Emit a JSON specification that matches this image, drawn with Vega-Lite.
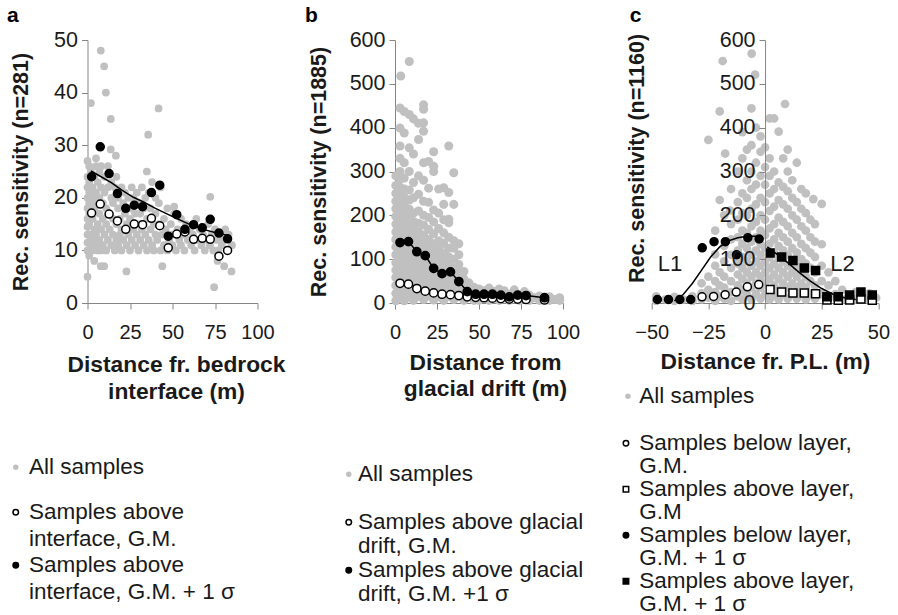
{
"$schema": "https://vega.github.io/schema/vega-lite/v6.json",
"autosize": {"type": "none"},
"padding": {"left": 87.5, "top": 40, "right": 810.5, "bottom": 575},
"background": "white",
"config": {
  "font": "Liberation Sans",
  "view": {"stroke": null},
  "axis": {"grid": false, "domainColor": "#868686", "tickColor": "#868686", "tickSize": 6, "labelColor": "#1a1a1a", "titleFontSize": 21.5, "titleFontWeight": "bold", "titleColor": "#1a1a1a", "labelFlush": false, "labelOverlap": false},
  "axisX": {"labelPadding": 13, "labelFontSize": 20, "titleFontSize": 22.8},
  "axisY": {"labelPadding": 4, "labelFontSize": 21.5},
  "legend": {"labelFontSize": 22.5, "labelColor": "#1a1a1a", "labelLimit": 400, "symbolStrokeWidth": 1.5, "padding": 0, "orient": "none", "symbolSize": 30},
  "title": {"fontSize": 21, "fontWeight": "bold", "anchor": "start", "frame": "group", "color": "#000000", "offset": 3}
},
"datasets": {
  "a_all": [
{"x":0,"y":5,"series":"All samples"},{"x":0,"y":10,"series":"All samples"},{"x":0,"y":11.5,"series":"All samples"},{"x":0,"y":13,"series":"All samples"},{"x":0,"y":14.5,"series":"All samples"},{"x":0,"y":16,"series":"All samples"},{"x":0,"y":18,"series":"All samples"},{"x":0,"y":20,"series":"All samples"},{"x":0,"y":22,"series":"All samples"},{"x":0,"y":24,"series":"All samples"},{"x":0,"y":27,"series":"All samples"},
{"x":1,"y":9,"series":"All samples"},{"x":1,"y":13,"series":"All samples"},{"x":1,"y":15,"series":"All samples"},{"x":1,"y":17,"series":"All samples"},{"x":1,"y":19,"series":"All samples"},{"x":1,"y":21,"series":"All samples"},{"x":1,"y":23,"series":"All samples"},{"x":1,"y":26,"series":"All samples"},
{"x":2,"y":11,"series":"All samples"},{"x":2,"y":19,"series":"All samples"},{"x":2,"y":25,"series":"All samples"},{"x":2,"y":38,"series":"All samples"},
{"x":3,"y":10,"series":"All samples"},{"x":3,"y":12,"series":"All samples"},{"x":3,"y":16,"series":"All samples"},{"x":3,"y":20,"series":"All samples"},{"x":3,"y":22,"series":"All samples"},
{"x":4,"y":8,"series":"All samples"},{"x":4,"y":14,"series":"All samples"},{"x":4,"y":18,"series":"All samples"},{"x":4,"y":24,"series":"All samples"},
{"x":5,"y":11,"series":"All samples"},{"x":5,"y":13,"series":"All samples"},{"x":5,"y":21,"series":"All samples"},{"x":5,"y":26,"series":"All samples"},{"x":5,"y":27.5,"series":"All samples"},
{"x":6,"y":10,"series":"All samples"},{"x":6,"y":15,"series":"All samples"},{"x":6,"y":19,"series":"All samples"},{"x":6,"y":23,"series":"All samples"},
{"x":7,"y":12,"series":"All samples"},{"x":7,"y":17,"series":"All samples"},{"x":7,"y":20,"series":"All samples"},{"x":7,"y":25,"series":"All samples"},{"x":7.8,"y":48,"series":"All samples"},{"x":7.8,"y":7,"series":"All samples"},
{"x":8,"y":10,"series":"All samples"},{"x":8,"y":14,"series":"All samples"},{"x":8,"y":22,"series":"All samples"},{"x":8,"y":26,"series":"All samples"},
{"x":9,"y":11,"series":"All samples"},{"x":9,"y":16,"series":"All samples"},{"x":9,"y":19,"series":"All samples"},{"x":9.8,"y":45,"series":"All samples"},{"x":9.8,"y":7,"series":"All samples"},
{"x":10,"y":13,"series":"All samples"},{"x":10,"y":21,"series":"All samples"},{"x":10,"y":24,"series":"All samples"},{"x":10.8,"y":40,"series":"All samples"},
{"x":11,"y":10,"series":"All samples"},{"x":11,"y":15,"series":"All samples"},{"x":11,"y":18,"series":"All samples"},
{"x":12,"y":12,"series":"All samples"},{"x":12,"y":22,"series":"All samples"},{"x":12,"y":26,"series":"All samples"},
{"x":13,"y":14,"series":"All samples"},{"x":13,"y":17,"series":"All samples"},{"x":13.7,"y":35,"series":"All samples"},{"x":13.7,"y":29.2,"series":"All samples"},
{"x":14,"y":11,"series":"All samples"},{"x":14,"y":20,"series":"All samples"},{"x":14,"y":23,"series":"All samples"},
{"x":15,"y":13,"series":"All samples"},{"x":15,"y":16,"series":"All samples"},{"x":15,"y":19,"series":"All samples"},
{"x":16,"y":10,"series":"All samples"},{"x":16,"y":22,"series":"All samples"},{"x":16.7,"y":28,"series":"All samples"},
{"x":17,"y":12,"series":"All samples"},{"x":17,"y":15,"series":"All samples"},{"x":17,"y":24,"series":"All samples"},
{"x":18,"y":18,"series":"All samples"},{"x":18,"y":20,"series":"All samples"},{"x":18,"y":11,"series":"All samples"},
{"x":19,"y":13,"series":"All samples"},{"x":19,"y":16,"series":"All samples"},
{"x":20,"y":10,"series":"All samples"},{"x":20,"y":22,"series":"All samples"},{"x":20,"y":14,"series":"All samples"},
{"x":21,"y":12,"series":"All samples"},{"x":21,"y":19,"series":"All samples"},
{"x":22,"y":17,"series":"All samples"},{"x":22,"y":21,"series":"All samples"},{"x":22.9,"y":6,"series":"All samples"},
{"x":23,"y":11,"series":"All samples"},{"x":23,"y":15,"series":"All samples"},
{"x":24,"y":13,"series":"All samples"},{"x":24,"y":20,"series":"All samples"},
{"x":25,"y":10,"series":"All samples"},{"x":25,"y":18,"series":"All samples"},{"x":25,"y":16,"series":"All samples"},
{"x":26,"y":12,"series":"All samples"},{"x":26,"y":22,"series":"All samples"},
{"x":27,"y":14,"series":"All samples"},{"x":27,"y":20,"series":"All samples"},
{"x":28,"y":11,"series":"All samples"},{"x":28,"y":17,"series":"All samples"},
{"x":29,"y":13,"series":"All samples"},{"x":29,"y":21,"series":"All samples"},
{"x":30,"y":10,"series":"All samples"},{"x":30,"y":15,"series":"All samples"},{"x":30,"y":19,"series":"All samples"},
{"x":31,"y":12,"series":"All samples"},{"x":31,"y":17,"series":"All samples"},
{"x":32,"y":14,"series":"All samples"},{"x":32,"y":22,"series":"All samples"},
{"x":33,"y":11,"series":"All samples"},{"x":33,"y":18,"series":"All samples"},
{"x":34,"y":13,"series":"All samples"},{"x":34,"y":20,"series":"All samples"},{"x":34.9,"y":25,"series":"All samples"},
{"x":35,"y":10,"series":"All samples"},{"x":35,"y":16,"series":"All samples"},{"x":35.7,"y":32,"series":"All samples"},
{"x":36,"y":12,"series":"All samples"},{"x":36,"y":21,"series":"All samples"},
{"x":37,"y":14,"series":"All samples"},{"x":37,"y":18,"series":"All samples"},
{"x":38,"y":11,"series":"All samples"},{"x":38,"y":23,"series":"All samples"},
{"x":39,"y":15,"series":"All samples"},{"x":39,"y":10,"series":"All samples"},
{"x":40,"y":13,"series":"All samples"},{"x":40,"y":17,"series":"All samples"},{"x":40,"y":20,"series":"All samples"},
{"x":41,"y":12,"series":"All samples"},{"x":41.8,"y":37,"series":"All samples"},
{"x":42,"y":15,"series":"All samples"},{"x":42,"y":19,"series":"All samples"},
{"x":43,"y":10,"series":"All samples"},{"x":43,"y":22,"series":"All samples"},
{"x":44,"y":13,"series":"All samples"},{"x":44,"y":7,"series":"All samples"},
{"x":45,"y":11,"series":"All samples"},{"x":45,"y":16,"series":"All samples"},
{"x":46,"y":14,"series":"All samples"},{"x":47,"y":10,"series":"All samples"},{"x":47,"y":18,"series":"All samples"},{"x":48,"y":12,"series":"All samples"},{"x":49,"y":15,"series":"All samples"},{"x":50,"y":11,"series":"All samples"},{"x":50,"y":13,"series":"All samples"},{"x":51,"y":17,"series":"All samples"},{"x":51,"y":18.3,"series":"All samples"},{"x":52,"y":10,"series":"All samples"},{"x":53,"y":14,"series":"All samples"},{"x":54,"y":12,"series":"All samples"},{"x":55,"y":16,"series":"All samples"},{"x":55,"y":11,"series":"All samples"},
{"x":56,"y":13,"series":"All samples"},{"x":57,"y":10,"series":"All samples"},{"x":58,"y":15,"series":"All samples"},{"x":59,"y":12,"series":"All samples"},{"x":60,"y":14,"series":"All samples"},{"x":61,"y":11,"series":"All samples"},{"x":62,"y":13,"series":"All samples"},{"x":63,"y":10,"series":"All samples"},{"x":64,"y":16,"series":"All samples"},{"x":65,"y":12,"series":"All samples"},
{"x":66,"y":14,"series":"All samples"},{"x":67,"y":11,"series":"All samples"},{"x":68,"y":13,"series":"All samples"},{"x":69,"y":10,"series":"All samples"},{"x":70,"y":12,"series":"All samples"},{"x":71,"y":15,"series":"All samples"},{"x":72,"y":11,"series":"All samples"},{"x":72.2,"y":20.2,"series":"All samples"},{"x":73,"y":13,"series":"All samples"},{"x":74,"y":10,"series":"All samples"},{"x":74.5,"y":3,"series":"All samples"},{"x":75,"y":14,"series":"All samples"},
{"x":76,"y":12,"series":"All samples"},{"x":76.5,"y":8,"series":"All samples"},{"x":77,"y":10,"series":"All samples"},{"x":78,"y":13,"series":"All samples"},{"x":79,"y":11,"series":"All samples"},{"x":80,"y":12,"series":"All samples"},{"x":80.4,"y":7,"series":"All samples"},{"x":81,"y":14,"series":"All samples"},{"x":82,"y":10,"series":"All samples"},{"x":83,"y":13,"series":"All samples"},{"x":84.7,"y":6,"series":"All samples"},{"x":85,"y":11,"series":"All samples"}
  ],
  "a_pts": [
{"x":2.4,"y":17.1,"series":"Samples above interface, G.M."},{"x":7.5,"y":18.8,"series":"Samples above interface, G.M."},{"x":12.7,"y":16.9,"series":"Samples above interface, G.M."},{"x":17.6,"y":15.6,"series":"Samples above interface, G.M."},{"x":22.5,"y":14.0,"series":"Samples above interface, G.M."},{"x":27.5,"y":15.0,"series":"Samples above interface, G.M."},{"x":32.4,"y":14.9,"series":"Samples above interface, G.M."},{"x":37.6,"y":16.1,"series":"Samples above interface, G.M."},{"x":42.5,"y":14.7,"series":"Samples above interface, G.M."},{"x":47.5,"y":10.5,"series":"Samples above interface, G.M."},{"x":52.5,"y":13.1,"series":"Samples above interface, G.M."},{"x":57.3,"y":13.5,"series":"Samples above interface, G.M."},{"x":62.4,"y":12.1,"series":"Samples above interface, G.M."},{"x":67.5,"y":12.3,"series":"Samples above interface, G.M."},{"x":72.2,"y":12.1,"series":"Samples above interface, G.M."},{"x":77.3,"y":8.9,"series":"Samples above interface, G.M."},{"x":82.4,"y":10.0,"series":"Samples above interface, G.M."},
{"x":2.4,"y":24.0,"series":"Samples above interface, G.M. + 1 σ"},{"x":7.5,"y":29.7,"series":"Samples above interface, G.M. + 1 σ"},{"x":12.7,"y":24.6,"series":"Samples above interface, G.M. + 1 σ"},{"x":17.6,"y":20.8,"series":"Samples above interface, G.M. + 1 σ"},{"x":22.5,"y":18.0,"series":"Samples above interface, G.M. + 1 σ"},{"x":27.5,"y":18.6,"series":"Samples above interface, G.M. + 1 σ"},{"x":32.4,"y":18.3,"series":"Samples above interface, G.M. + 1 σ"},{"x":37.6,"y":21.0,"series":"Samples above interface, G.M. + 1 σ"},{"x":42.5,"y":22.4,"series":"Samples above interface, G.M. + 1 σ"},{"x":47.5,"y":12.7,"series":"Samples above interface, G.M. + 1 σ"},{"x":52.5,"y":16.8,"series":"Samples above interface, G.M. + 1 σ"},{"x":57.3,"y":14.0,"series":"Samples above interface, G.M. + 1 σ"},{"x":62.4,"y":14.9,"series":"Samples above interface, G.M. + 1 σ"},{"x":67.5,"y":14.3,"series":"Samples above interface, G.M. + 1 σ"},{"x":72.2,"y":15.9,"series":"Samples above interface, G.M. + 1 σ"},{"x":77.3,"y":13.3,"series":"Samples above interface, G.M. + 1 σ"},{"x":82.4,"y":12.2,"series":"Samples above interface, G.M. + 1 σ"}
  ],
  "a_fit": [
{"x":2,"y":25.1},{"x":8,"y":24.0},{"x":14,"y":22.9},{"x":20,"y":21.5},{"x":27,"y":20.1},{"x":33,"y":19.2},{"x":40,"y":18.0},{"x":47,"y":16.9},{"x":53,"y":16.0},{"x":61,"y":14.8},{"x":68,"y":14.0},{"x":75,"y":13.4},{"x":82.4,"y":12.9}
  ],
  "b_all": [
{"x":0.5,"y":5,"series":"All samples"},{"x":0.5,"y":22,"series":"All samples"},{"x":0.5,"y":40,"series":"All samples"},{"x":0.5,"y":58,"series":"All samples"},{"x":0.5,"y":75,"series":"All samples"},{"x":0.5,"y":92,"series":"All samples"},{"x":0.5,"y":110,"series":"All samples"},{"x":0.5,"y":128,"series":"All samples"},{"x":0.5,"y":145,"series":"All samples"},{"x":0.5,"y":162,"series":"All samples"},{"x":0.5,"y":180,"series":"All samples"},{"x":0.5,"y":198,"series":"All samples"},{"x":0.5,"y":215,"series":"All samples"},{"x":0.5,"y":232,"series":"All samples"},{"x":0.5,"y":250,"series":"All samples"},{"x":0.5,"y":268,"series":"All samples"},{"x":0.5,"y":290,"series":"All samples"},
{"x":3,"y":12,"series":"All samples"},{"x":3,"y":30,"series":"All samples"},{"x":3,"y":48,"series":"All samples"},{"x":3,"y":66,"series":"All samples"},{"x":3,"y":84,"series":"All samples"},{"x":3,"y":102,"series":"All samples"},{"x":3,"y":120,"series":"All samples"},{"x":3,"y":138,"series":"All samples"},{"x":3,"y":156,"series":"All samples"},{"x":3,"y":174,"series":"All samples"},{"x":3,"y":192,"series":"All samples"},{"x":3,"y":210,"series":"All samples"},{"x":3,"y":228,"series":"All samples"},{"x":3,"y":246,"series":"All samples"},{"x":3,"y":264,"series":"All samples"},{"x":3,"y":282,"series":"All samples"},{"x":3,"y":300,"series":"All samples"},{"x":3,"y":330,"series":"All samples"},{"x":3,"y":358,"series":"All samples"},{"x":3,"y":399,"series":"All samples"},{"x":3,"y":445,"series":"All samples"},{"x":3.4,"y":518,"series":"All samples"},
{"x":5.5,"y":5,"series":"All samples"},{"x":5.5,"y":25,"series":"All samples"},{"x":5.5,"y":44,"series":"All samples"},{"x":5.5,"y":62,"series":"All samples"},{"x":5.5,"y":80,"series":"All samples"},{"x":5.5,"y":98,"series":"All samples"},{"x":5.5,"y":116,"series":"All samples"},{"x":5.5,"y":134,"series":"All samples"},{"x":5.5,"y":152,"series":"All samples"},{"x":5.5,"y":170,"series":"All samples"},{"x":5.5,"y":188,"series":"All samples"},{"x":5.5,"y":206,"series":"All samples"},{"x":5.5,"y":224,"series":"All samples"},{"x":5.5,"y":242,"series":"All samples"},{"x":5.5,"y":260,"series":"All samples"},{"x":5.5,"y":285,"series":"All samples"},{"x":5.5,"y":320,"series":"All samples"},{"x":5.5,"y":388,"series":"All samples"},{"x":5.5,"y":437,"series":"All samples"},
{"x":8.5,"y":14,"series":"All samples"},{"x":8.5,"y":33,"series":"All samples"},{"x":8.5,"y":52,"series":"All samples"},{"x":8.5,"y":70,"series":"All samples"},{"x":8.5,"y":88,"series":"All samples"},{"x":8.5,"y":106,"series":"All samples"},{"x":8.5,"y":124,"series":"All samples"},{"x":8.5,"y":142,"series":"All samples"},{"x":8.5,"y":160,"series":"All samples"},{"x":8.5,"y":178,"series":"All samples"},{"x":8.5,"y":196,"series":"All samples"},{"x":8.5,"y":214,"series":"All samples"},{"x":8.5,"y":235,"series":"All samples"},{"x":8.5,"y":258,"series":"All samples"},{"x":8.5,"y":300,"series":"All samples"},{"x":8.5,"y":354,"series":"All samples"},{"x":8.5,"y":430,"series":"All samples"},{"x":8.5,"y":551,"series":"All samples"},
{"x":11,"y":6,"series":"All samples"},{"x":11,"y":24,"series":"All samples"},{"x":11,"y":42,"series":"All samples"},{"x":11,"y":60,"series":"All samples"},{"x":11,"y":78,"series":"All samples"},{"x":11,"y":96,"series":"All samples"},{"x":11,"y":114,"series":"All samples"},{"x":11,"y":132,"series":"All samples"},{"x":11,"y":150,"series":"All samples"},{"x":11,"y":168,"series":"All samples"},{"x":11,"y":186,"series":"All samples"},{"x":11,"y":205,"series":"All samples"},{"x":11,"y":240,"series":"All samples"},{"x":11,"y":275,"series":"All samples"},{"x":11,"y":340,"series":"All samples"},{"x":11,"y":420,"series":"All samples"},
{"x":14,"y":15,"series":"All samples"},{"x":14,"y":34,"series":"All samples"},{"x":14,"y":53,"series":"All samples"},{"x":14,"y":72,"series":"All samples"},{"x":14,"y":90,"series":"All samples"},{"x":14,"y":108,"series":"All samples"},{"x":14,"y":126,"series":"All samples"},{"x":14,"y":144,"series":"All samples"},{"x":14,"y":162,"series":"All samples"},{"x":14,"y":182,"series":"All samples"},{"x":14,"y":210,"series":"All samples"},{"x":14,"y":248,"series":"All samples"},{"x":14,"y":290,"series":"All samples"},{"x":14,"y":373,"series":"All samples"},{"x":14,"y":410,"series":"All samples"},
{"x":17,"y":8,"series":"All samples"},{"x":17,"y":26,"series":"All samples"},{"x":17,"y":44,"series":"All samples"},{"x":17,"y":62,"series":"All samples"},{"x":17,"y":80,"series":"All samples"},{"x":17,"y":98,"series":"All samples"},{"x":17,"y":116,"series":"All samples"},{"x":17,"y":135,"series":"All samples"},{"x":17,"y":155,"series":"All samples"},{"x":17,"y":178,"series":"All samples"},{"x":17,"y":200,"series":"All samples"},{"x":17,"y":232,"series":"All samples"},{"x":17,"y":280,"series":"All samples"},{"x":17,"y":320,"series":"All samples"},{"x":17,"y":392,"series":"All samples"},{"x":17,"y":411,"series":"All samples"},{"x":17,"y":442,"series":"All samples"},{"x":17,"y":452,"series":"All samples"},
{"x":20,"y":16,"series":"All samples"},{"x":20,"y":34,"series":"All samples"},{"x":20,"y":52,"series":"All samples"},{"x":20,"y":70,"series":"All samples"},{"x":20,"y":88,"series":"All samples"},{"x":20,"y":106,"series":"All samples"},{"x":20,"y":125,"series":"All samples"},{"x":20,"y":145,"series":"All samples"},{"x":20,"y":168,"series":"All samples"},{"x":20,"y":195,"series":"All samples"},{"x":20,"y":230,"series":"All samples"},{"x":20,"y":262,"series":"All samples"},{"x":20,"y":323,"series":"All samples"},
{"x":23,"y":7,"series":"All samples"},{"x":23,"y":25,"series":"All samples"},{"x":23,"y":43,"series":"All samples"},{"x":23,"y":61,"series":"All samples"},{"x":23,"y":79,"series":"All samples"},{"x":23,"y":97,"series":"All samples"},{"x":23,"y":115,"series":"All samples"},{"x":23,"y":135,"series":"All samples"},{"x":23,"y":158,"series":"All samples"},{"x":23,"y":185,"series":"All samples"},{"x":23,"y":212,"series":"All samples"},{"x":23,"y":300,"series":"All samples"},{"x":23,"y":312,"series":"All samples"},{"x":23,"y":345,"series":"All samples"},
{"x":26,"y":14,"series":"All samples"},{"x":26,"y":32,"series":"All samples"},{"x":26,"y":50,"series":"All samples"},{"x":26,"y":68,"series":"All samples"},{"x":26,"y":86,"series":"All samples"},{"x":26,"y":104,"series":"All samples"},{"x":26,"y":122,"series":"All samples"},{"x":26,"y":142,"series":"All samples"},{"x":26,"y":170,"series":"All samples"},{"x":26,"y":205,"series":"All samples"},{"x":26,"y":260,"series":"All samples"},
{"x":29,"y":6,"series":"All samples"},{"x":29,"y":24,"series":"All samples"},{"x":29,"y":42,"series":"All samples"},{"x":29,"y":60,"series":"All samples"},{"x":29,"y":78,"series":"All samples"},{"x":29,"y":96,"series":"All samples"},{"x":29,"y":114,"series":"All samples"},{"x":29,"y":136,"series":"All samples"},{"x":29,"y":160,"series":"All samples"},{"x":29,"y":190,"series":"All samples"},{"x":29,"y":225,"series":"All samples"},{"x":29,"y":263,"series":"All samples"},
{"x":32,"y":15,"series":"All samples"},{"x":32,"y":33,"series":"All samples"},{"x":32,"y":51,"series":"All samples"},{"x":32,"y":69,"series":"All samples"},{"x":32,"y":87,"series":"All samples"},{"x":32,"y":105,"series":"All samples"},{"x":32,"y":125,"series":"All samples"},{"x":32,"y":150,"series":"All samples"},{"x":32,"y":183,"series":"All samples"},{"x":32,"y":191,"series":"All samples"},{"x":32,"y":252,"series":"All samples"},{"x":32,"y":358,"series":"All samples"},
{"x":35,"y":8,"series":"All samples"},{"x":35,"y":26,"series":"All samples"},{"x":35,"y":44,"series":"All samples"},{"x":35,"y":62,"series":"All samples"},{"x":35,"y":80,"series":"All samples"},{"x":35,"y":100,"series":"All samples"},{"x":35,"y":125,"series":"All samples"},{"x":35,"y":142,"series":"All samples"},{"x":35,"y":225,"series":"All samples"},{"x":35,"y":297,"series":"All samples"},
{"x":38,"y":16,"series":"All samples"},{"x":38,"y":34,"series":"All samples"},{"x":38,"y":52,"series":"All samples"},{"x":38,"y":70,"series":"All samples"},{"x":38,"y":88,"series":"All samples"},{"x":38,"y":110,"series":"All samples"},{"x":38,"y":135,"series":"All samples"},
{"x":41,"y":6,"series":"All samples"},{"x":41,"y":22,"series":"All samples"},{"x":41,"y":38,"series":"All samples"},{"x":41,"y":55,"series":"All samples"},{"x":41,"y":72,"series":"All samples"},
{"x":44,"y":14,"series":"All samples"},{"x":44,"y":30,"series":"All samples"},{"x":44,"y":46,"series":"All samples"},
{"x":47,"y":6,"series":"All samples"},{"x":47,"y":22,"series":"All samples"},{"x":47,"y":36,"series":"All samples"},
{"x":50,"y":6,"series":"All samples"},{"x":50,"y":20,"series":"All samples"},{"x":50,"y":32,"series":"All samples"},{"x":53,"y":12,"series":"All samples"},{"x":53,"y":28,"series":"All samples"},{"x":56,"y":6,"series":"All samples"},{"x":56,"y":20,"series":"All samples"},{"x":56,"y":34,"series":"All samples"},{"x":59,"y":12,"series":"All samples"},{"x":59,"y":26,"series":"All samples"},{"x":62,"y":6,"series":"All samples"},{"x":62,"y":20,"series":"All samples"},{"x":62,"y":32,"series":"All samples"},{"x":65,"y":12,"series":"All samples"},{"x":65,"y":28,"series":"All samples"},{"x":68,"y":6,"series":"All samples"},{"x":68,"y":20,"series":"All samples"},{"x":71,"y":14,"series":"All samples"},{"x":71,"y":30,"series":"All samples"},{"x":74,"y":6,"series":"All samples"},{"x":74,"y":18,"series":"All samples"},{"x":77,"y":12,"series":"All samples"},{"x":77,"y":26,"series":"All samples"},{"x":80,"y":6,"series":"All samples"},{"x":80,"y":18,"series":"All samples"},{"x":83,"y":12,"series":"All samples"},{"x":86,"y":6,"series":"All samples"},{"x":86,"y":16,"series":"All samples"},{"x":89,"y":10,"series":"All samples"},{"x":92,"y":6,"series":"All samples"},{"x":92,"y":14,"series":"All samples"},{"x":95,"y":8,"series":"All samples"},{"x":98,"y":6,"series":"All samples"},{"x":98,"y":12,"series":"All samples"}
  ],
  "b_pts": [
{"x":3,"y":45,"series":"Samples above glacial drift, G.M."},{"x":8,"y":43,"series":"Samples above glacial drift, G.M."},{"x":13,"y":33,"series":"Samples above glacial drift, G.M."},{"x":18,"y":27,"series":"Samples above glacial drift, G.M."},{"x":23,"y":23,"series":"Samples above glacial drift, G.M."},{"x":28,"y":20,"series":"Samples above glacial drift, G.M."},{"x":33,"y":19,"series":"Samples above glacial drift, G.M."},{"x":38,"y":17,"series":"Samples above glacial drift, G.M."},{"x":43,"y":14,"series":"Samples above glacial drift, G.M."},{"x":48,"y":13,"series":"Samples above glacial drift, G.M."},{"x":53,"y":12,"series":"Samples above glacial drift, G.M."},{"x":58,"y":11,"series":"Samples above glacial drift, G.M."},{"x":63,"y":10,"series":"Samples above glacial drift, G.M."},{"x":68,"y":9,"series":"Samples above glacial drift, G.M."},{"x":73,"y":9,"series":"Samples above glacial drift, G.M."},{"x":78,"y":8,"series":"Samples above glacial drift, G.M."},{"x":89,"y":7,"series":"Samples above glacial drift, G.M."},
{"x":3,"y":138,"series":"Samples above glacial drift, G.M. +1 σ"},{"x":8,"y":140,"series":"Samples above glacial drift, G.M. +1 σ"},{"x":13,"y":117,"series":"Samples above glacial drift, G.M. +1 σ"},{"x":18,"y":108,"series":"Samples above glacial drift, G.M. +1 σ"},{"x":23,"y":79,"series":"Samples above glacial drift, G.M. +1 σ"},{"x":28,"y":67,"series":"Samples above glacial drift, G.M. +1 σ"},{"x":33,"y":71,"series":"Samples above glacial drift, G.M. +1 σ"},{"x":38,"y":49,"series":"Samples above glacial drift, G.M. +1 σ"},{"x":43,"y":26,"series":"Samples above glacial drift, G.M. +1 σ"},{"x":48,"y":20,"series":"Samples above glacial drift, G.M. +1 σ"},{"x":53,"y":20,"series":"Samples above glacial drift, G.M. +1 σ"},{"x":58,"y":20,"series":"Samples above glacial drift, G.M. +1 σ"},{"x":63,"y":18,"series":"Samples above glacial drift, G.M. +1 σ"},{"x":68,"y":14,"series":"Samples above glacial drift, G.M. +1 σ"},{"x":73,"y":18,"series":"Samples above glacial drift, G.M. +1 σ"},{"x":78,"y":17,"series":"Samples above glacial drift, G.M. +1 σ"},{"x":89,"y":12,"series":"Samples above glacial drift, G.M. +1 σ"}
  ],
  "c_all": [
{"x":-48,"y":5,"series":"All samples"},{"x":-48,"y":15,"series":"All samples"},{"x":-44,"y":8,"series":"All samples"},{"x":-40,"y":5,"series":"All samples"},{"x":-40,"y":14,"series":"All samples"},{"x":-36,"y":8,"series":"All samples"},{"x":-32,"y":5,"series":"All samples"},{"x":-32,"y":15,"series":"All samples"},{"x":-28,"y":8,"series":"All samples"},{"x":-28,"y":22,"series":"All samples"},{"x":-28,"y":45,"series":"All samples"},
{"x":-25,"y":12,"series":"All samples"},{"x":-25,"y":30,"series":"All samples"},{"x":-25,"y":60,"series":"All samples"},{"x":-25,"y":372,"series":"All samples"},
{"x":-22,"y":5,"series":"All samples"},{"x":-22,"y":25,"series":"All samples"},{"x":-22,"y":50,"series":"All samples"},{"x":-22,"y":85,"series":"All samples"},{"x":-22,"y":111,"series":"All samples"},{"x":-22,"y":165,"series":"All samples"},
{"x":-20,"y":15,"series":"All samples"},{"x":-20,"y":40,"series":"All samples"},{"x":-20,"y":70,"series":"All samples"},{"x":-20,"y":235,"series":"All samples"},{"x":-20,"y":437,"series":"All samples"},{"x":-18.7,"y":552,"series":"All samples"},{"x":-17.6,"y":341,"series":"All samples"},
{"x":-18,"y":10,"series":"All samples"},{"x":-18,"y":35,"series":"All samples"},{"x":-18,"y":60,"series":"All samples"},{"x":-18,"y":95,"series":"All samples"},{"x":-18,"y":130,"series":"All samples"},{"x":-18,"y":200,"series":"All samples"},{"x":-15.4,"y":211,"series":"All samples"},
{"x":-15,"y":5,"series":"All samples"},{"x":-15,"y":25,"series":"All samples"},{"x":-15,"y":50,"series":"All samples"},{"x":-15,"y":80,"series":"All samples"},{"x":-15,"y":110,"series":"All samples"},{"x":-15,"y":145,"series":"All samples"},{"x":-15,"y":180,"series":"All samples"},{"x":-15,"y":260,"series":"All samples"},
{"x":-12,"y":15,"series":"All samples"},{"x":-12,"y":40,"series":"All samples"},{"x":-12,"y":65,"series":"All samples"},{"x":-12,"y":90,"series":"All samples"},{"x":-12,"y":120,"series":"All samples"},{"x":-12,"y":150,"series":"All samples"},{"x":-12,"y":190,"series":"All samples"},{"x":-12,"y":230,"series":"All samples"},{"x":-12,"y":300,"series":"All samples"},
{"x":-10,"y":8,"series":"All samples"},{"x":-10,"y":30,"series":"All samples"},{"x":-10,"y":55,"series":"All samples"},{"x":-10,"y":80,"series":"All samples"},{"x":-10,"y":105,"series":"All samples"},{"x":-10,"y":135,"series":"All samples"},{"x":-10,"y":165,"series":"All samples"},{"x":-10,"y":205,"series":"All samples"},{"x":-10,"y":250,"series":"All samples"},{"x":-10,"y":330,"series":"All samples"},{"x":-10,"y":390,"series":"All samples"},
{"x":-8,"y":20,"series":"All samples"},{"x":-8,"y":45,"series":"All samples"},{"x":-8,"y":70,"series":"All samples"},{"x":-8,"y":95,"series":"All samples"},{"x":-8,"y":125,"series":"All samples"},{"x":-8,"y":160,"series":"All samples"},{"x":-8,"y":200,"series":"All samples"},{"x":-8,"y":240,"series":"All samples"},{"x":-8,"y":280,"series":"All samples"},{"x":-8,"y":350,"series":"All samples"},
{"x":-6,"y":8,"series":"All samples"},{"x":-6,"y":35,"series":"All samples"},{"x":-6,"y":60,"series":"All samples"},{"x":-6,"y":85,"series":"All samples"},{"x":-6,"y":110,"series":"All samples"},{"x":-6,"y":140,"series":"All samples"},{"x":-6,"y":175,"series":"All samples"},{"x":-6,"y":215,"series":"All samples"},{"x":-6,"y":260,"series":"All samples"},{"x":-6,"y":300,"series":"All samples"},{"x":-6,"y":360,"series":"All samples"},{"x":-6,"y":444,"series":"All samples"},{"x":-5.9,"y":569,"series":"All samples"},{"x":-4.4,"y":521,"series":"All samples"},
{"x":-4,"y":20,"series":"All samples"},{"x":-4,"y":45,"series":"All samples"},{"x":-4,"y":70,"series":"All samples"},{"x":-4,"y":95,"series":"All samples"},{"x":-4,"y":120,"series":"All samples"},{"x":-4,"y":150,"series":"All samples"},{"x":-4,"y":185,"series":"All samples"},{"x":-4,"y":225,"series":"All samples"},{"x":-4,"y":270,"series":"All samples"},{"x":-4,"y":320,"series":"All samples"},{"x":-4,"y":400,"series":"All samples"},
{"x":-2,"y":10,"series":"All samples"},{"x":-2,"y":35,"series":"All samples"},{"x":-2,"y":60,"series":"All samples"},{"x":-2,"y":85,"series":"All samples"},{"x":-2,"y":110,"series":"All samples"},{"x":-2,"y":135,"series":"All samples"},{"x":-2,"y":165,"series":"All samples"},{"x":-2,"y":200,"series":"All samples"},{"x":-2,"y":240,"series":"All samples"},{"x":-2,"y":290,"series":"All samples"},{"x":-2,"y":345,"series":"All samples"},{"x":-2,"y":380,"series":"All samples"},
{"x":0,"y":20,"series":"All samples"},{"x":0,"y":45,"series":"All samples"},{"x":0,"y":70,"series":"All samples"},{"x":0,"y":95,"series":"All samples"},{"x":0,"y":125,"series":"All samples"},{"x":0,"y":155,"series":"All samples"},{"x":0,"y":190,"series":"All samples"},{"x":0,"y":230,"series":"All samples"},{"x":0,"y":270,"series":"All samples"},{"x":0,"y":310,"series":"All samples"},{"x":0,"y":355,"series":"All samples"},
{"x":2,"y":8,"series":"All samples"},{"x":2,"y":30,"series":"All samples"},{"x":2,"y":55,"series":"All samples"},{"x":2,"y":80,"series":"All samples"},{"x":2,"y":105,"series":"All samples"},{"x":2,"y":135,"series":"All samples"},{"x":2,"y":170,"series":"All samples"},{"x":2,"y":210,"series":"All samples"},{"x":2,"y":250,"series":"All samples"},{"x":2,"y":290,"series":"All samples"},{"x":2,"y":330,"series":"All samples"},{"x":2,"y":421,"series":"All samples"},
{"x":4,"y":18,"series":"All samples"},{"x":4,"y":40,"series":"All samples"},{"x":4,"y":65,"series":"All samples"},{"x":4,"y":90,"series":"All samples"},{"x":4,"y":115,"series":"All samples"},{"x":4,"y":145,"series":"All samples"},{"x":4,"y":180,"series":"All samples"},{"x":4,"y":220,"series":"All samples"},{"x":4,"y":260,"series":"All samples"},{"x":4,"y":300,"series":"All samples"},{"x":4,"y":421,"series":"All samples"},
{"x":6,"y":8,"series":"All samples"},{"x":6,"y":30,"series":"All samples"},{"x":6,"y":55,"series":"All samples"},{"x":6,"y":80,"series":"All samples"},{"x":6,"y":105,"series":"All samples"},{"x":6,"y":130,"series":"All samples"},{"x":6,"y":160,"series":"All samples"},{"x":6,"y":195,"series":"All samples"},{"x":6,"y":235,"series":"All samples"},{"x":6,"y":275,"series":"All samples"},{"x":6,"y":391,"series":"All samples"},
{"x":8,"y":20,"series":"All samples"},{"x":8,"y":45,"series":"All samples"},{"x":8,"y":70,"series":"All samples"},{"x":8,"y":95,"series":"All samples"},{"x":8,"y":120,"series":"All samples"},{"x":8,"y":150,"series":"All samples"},{"x":8,"y":185,"series":"All samples"},{"x":8,"y":225,"series":"All samples"},{"x":8,"y":265,"series":"All samples"},{"x":8,"y":330,"series":"All samples"},{"x":8.8,"y":454,"series":"All samples"},
{"x":10,"y":10,"series":"All samples"},{"x":10,"y":35,"series":"All samples"},{"x":10,"y":60,"series":"All samples"},{"x":10,"y":85,"series":"All samples"},{"x":10,"y":110,"series":"All samples"},{"x":10,"y":140,"series":"All samples"},{"x":10,"y":175,"series":"All samples"},{"x":10,"y":215,"series":"All samples"},{"x":10,"y":255,"series":"All samples"},{"x":10,"y":300,"series":"All samples"},{"x":10,"y":350,"series":"All samples"},
{"x":12,"y":20,"series":"All samples"},{"x":12,"y":45,"series":"All samples"},{"x":12,"y":70,"series":"All samples"},{"x":12,"y":95,"series":"All samples"},{"x":12,"y":125,"series":"All samples"},{"x":12,"y":160,"series":"All samples"},{"x":12,"y":200,"series":"All samples"},{"x":12,"y":240,"series":"All samples"},{"x":12,"y":280,"series":"All samples"},
{"x":14,"y":10,"series":"All samples"},{"x":14,"y":35,"series":"All samples"},{"x":14,"y":60,"series":"All samples"},{"x":14,"y":85,"series":"All samples"},{"x":14,"y":115,"series":"All samples"},{"x":14,"y":150,"series":"All samples"},{"x":14,"y":190,"series":"All samples"},{"x":14,"y":230,"series":"All samples"},{"x":14,"y":320,"series":"All samples"},
{"x":16,"y":20,"series":"All samples"},{"x":16,"y":45,"series":"All samples"},{"x":16,"y":70,"series":"All samples"},{"x":16,"y":100,"series":"All samples"},{"x":16,"y":135,"series":"All samples"},{"x":16,"y":175,"series":"All samples"},{"x":16,"y":215,"series":"All samples"},{"x":16,"y":260,"series":"All samples"},
{"x":18,"y":8,"series":"All samples"},{"x":18,"y":35,"series":"All samples"},{"x":18,"y":60,"series":"All samples"},{"x":18,"y":90,"series":"All samples"},{"x":18,"y":125,"series":"All samples"},{"x":18,"y":165,"series":"All samples"},{"x":18,"y":205,"series":"All samples"},{"x":18,"y":250,"series":"All samples"},
{"x":20,"y":20,"series":"All samples"},{"x":20,"y":50,"series":"All samples"},{"x":20,"y":80,"series":"All samples"},{"x":20,"y":115,"series":"All samples"},{"x":20,"y":150,"series":"All samples"},{"x":20,"y":190,"series":"All samples"},{"x":21.3,"y":237,"series":"All samples"},
{"x":22,"y":10,"series":"All samples"},{"x":22,"y":40,"series":"All samples"},{"x":22,"y":70,"series":"All samples"},{"x":22,"y":105,"series":"All samples"},{"x":22,"y":140,"series":"All samples"},{"x":22,"y":180,"series":"All samples"},
{"x":25,"y":20,"series":"All samples"},{"x":25,"y":50,"series":"All samples"},{"x":25,"y":85,"series":"All samples"},{"x":25,"y":134,"series":"All samples"},{"x":25,"y":226,"series":"All samples"},
{"x":28,"y":10,"series":"All samples"},{"x":28,"y":40,"series":"All samples"},{"x":28,"y":70,"series":"All samples"},{"x":31,"y":20,"series":"All samples"},{"x":31,"y":50,"series":"All samples"},{"x":34,"y":8,"series":"All samples"},{"x":34,"y":30,"series":"All samples"},{"x":37,"y":15,"series":"All samples"},{"x":40,"y":8,"series":"All samples"},{"x":40,"y":25,"series":"All samples"},{"x":43,"y":12,"series":"All samples"},{"x":46,"y":8,"series":"All samples"},{"x":46,"y":22,"series":"All samples"},{"x":49,"y":12,"series":"All samples"}
  ],
  "c_pts": [
{"x":-27.8,"y":14,"series":"Samples below layer, G.M."},{"x":-22.7,"y":15,"series":"Samples below layer, G.M."},{"x":-17.6,"y":19,"series":"Samples below layer, G.M."},{"x":-12.7,"y":25,"series":"Samples below layer, G.M."},{"x":-7.8,"y":37,"series":"Samples below layer, G.M."},{"x":-2.8,"y":42,"series":"Samples below layer, G.M."},
{"x":2.2,"y":31,"series":"Samples above layer, G.M"},{"x":7.3,"y":25,"series":"Samples above layer, G.M"},{"x":12.3,"y":23,"series":"Samples above layer, G.M"},{"x":17.3,"y":23,"series":"Samples above layer, G.M"},{"x":22.3,"y":21,"series":"Samples above layer, G.M"},{"x":27.3,"y":7,"series":"Samples above layer, G.M"},{"x":32.3,"y":6,"series":"Samples above layer, G.M"},{"x":37.3,"y":7,"series":"Samples above layer, G.M"},{"x":42.3,"y":9,"series":"Samples above layer, G.M"},{"x":47.3,"y":6,"series":"Samples above layer, G.M"},
{"x":-47.5,"y":8,"series":"Samples below layer, G.M. + 1 σ"},{"x":-42.6,"y":8,"series":"Samples below layer, G.M. + 1 σ"},{"x":-37.6,"y":8,"series":"Samples below layer, G.M. + 1 σ"},{"x":-32.8,"y":8,"series":"Samples below layer, G.M. + 1 σ"},{"x":-27.7,"y":126,"series":"Samples below layer, G.M. + 1 σ"},{"x":-22.5,"y":140,"series":"Samples below layer, G.M. + 1 σ"},{"x":-17.5,"y":140,"series":"Samples below layer, G.M. + 1 σ"},{"x":-12.6,"y":110,"series":"Samples below layer, G.M. + 1 σ"},{"x":-7.6,"y":149,"series":"Samples below layer, G.M. + 1 σ"},{"x":-2.6,"y":146,"series":"Samples below layer, G.M. + 1 σ"},
{"x":2.2,"y":114,"series":"Samples above layer, G.M. + 1 σ"},{"x":7.3,"y":105,"series":"Samples above layer, G.M. + 1 σ"},{"x":12.3,"y":97,"series":"Samples above layer, G.M. + 1 σ"},{"x":17.3,"y":80,"series":"Samples above layer, G.M. + 1 σ"},{"x":22.3,"y":74,"series":"Samples above layer, G.M. + 1 σ"},{"x":27.3,"y":14,"series":"Samples above layer, G.M. + 1 σ"},{"x":32.3,"y":14,"series":"Samples above layer, G.M. + 1 σ"},{"x":37.3,"y":18,"series":"Samples above layer, G.M. + 1 σ"},{"x":42.3,"y":25,"series":"Samples above layer, G.M. + 1 σ"},{"x":47.3,"y":18,"series":"Samples above layer, G.M. + 1 σ"}
  ],
  "c_fit": [
{"x":-40,"y":5,"part":"L1"},{"x":-36,"y":20,"part":"L1"},{"x":-32,"y":45,"part":"L1"},{"x":-28,"y":75,"part":"L1"},{"x":-24,"y":105,"part":"L1"},{"x":-20,"y":128,"part":"L1"},{"x":-16,"y":142,"part":"L1"},{"x":-12,"y":149,"part":"L1"},{"x":-8,"y":152,"part":"L1"},{"x":-4,"y":152,"part":"L1"},{"x":-1,"y":150,"part":"L1"},
{"x":1,"y":128,"part":"L2"},{"x":5,"y":112,"part":"L2"},{"x":10,"y":92,"part":"L2"},{"x":15,"y":70,"part":"L2"},{"x":20,"y":50,"part":"L2"},{"x":25,"y":33,"part":"L2"},{"x":30,"y":20,"part":"L2"},{"x":35,"y":12,"part":"L2"},{"x":40,"y":8,"part":"L2"}
  ],
  "c_lab": [
{"x":-41.9,"y":88,"label":"L1"},{"x":34.2,"y":88,"label":"L2"}
  ]
},
"bounds": "flush",
"spacing": 137.5,
"hconcat": [
  {
    "width": 170, "height": 263,
    "title": {"text": "a", "dx": -80.5},
    "encoding": {
      "x": {"field": "x", "type": "quantitative", "scale": {"domain": [0, 100], "nice": false}, "axis": {"values": [0, 25, 50, 75, 100], "title": ["Distance fr. bedrock", "interface (m)"], "titleLineHeight": 27, "titleX": 88.5, "titleY": 50}},
      "y": {"field": "y", "type": "quantitative", "scale": {"domain": [0, 50], "nice": false}, "axis": {"values": [0, 10, 20, 30, 40, 50], "title": "Rec. sensitivity (n=281)", "titleX": -55}}
    },
    "layer": [
      {"data": {"name": "a_all"}, "mark": {"type": "circle", "size": 60, "opacity": 1},
       "encoding": {"fill": {"field": "series", "type": "nominal", "scale": {"range": ["#c0c0c0"]}, "legend": {"title": null, "legendX": -83, "legendY": 416, "labelOffset": 2}}}},
      {"data": {"name": "a_fit"}, "mark": {"type": "line", "color": "#000000", "strokeWidth": 1.5}, "encoding": {}},
      {"data": {"name": "a_pts"}, "mark": {"type": "point", "shape": "circle", "filled": true, "size": 64, "strokeWidth": 1.5, "opacity": 1},
       "encoding": {
         "fill": {"field": "series", "type": "nominal", "scale": {"domain": ["Samples above interface, G.M.", "interface, G.M.", "Samples above interface, G.M. + 1 σ", "interface, G.M. + 1 σ"], "range": ["#ffffff", "rgba(0,0,0,0)", "#000000", "rgba(0,0,0,0)"]}, "legend": {"title": null, "legendX": -83, "legendY": 461, "rowPadding": 3.5, "labelOffset": 2, "labelExpr": "indexof(datum.value, 'Samples') === 0 ? 'Samples above' : datum.value"}},
         "stroke": {"field": "series", "type": "nominal", "scale": {"domain": ["Samples above interface, G.M.", "interface, G.M.", "Samples above interface, G.M. + 1 σ", "interface, G.M. + 1 σ"], "range": ["#000000", "rgba(0,0,0,0)", "#000000", "rgba(0,0,0,0)"]}, "legend": {"title": null, "legendX": -83, "legendY": 461, "rowPadding": 3.5, "labelOffset": 2, "labelExpr": "indexof(datum.value, 'Samples') === 0 ? 'Samples above' : datum.value"}}
       }}
    ],
    "resolve": {"scale": {"fill": "independent", "stroke": "independent"}}
  },
  {
    "bounds": "flush",
    "spacing": 88.7,
    "hconcat": [
      {
        "width": 168, "height": 263,
        "title": {"text": "b", "dx": -90},
        "encoding": {
          "x": {"field": "x", "type": "quantitative", "scale": {"domain": [0, 100], "nice": false}, "axis": {"values": [0, 25, 50, 75, 100], "title": ["Distance from", "glacial drift (m)"], "titleLineHeight": 26, "titleX": 90, "titleY": 48}},
          "y": {"field": "y", "type": "quantitative", "scale": {"domain": [0, 600], "nice": false}, "axis": {"values": [0, 100, 200, 300, 400, 500, 600], "title": "Rec. sensitivity (n=1885)", "titleX": -64.5}}
        },
        "layer": [
          {"data": {"name": "b_all"}, "mark": {"type": "circle", "size": 82, "opacity": 1},
           "encoding": {"fill": {"field": "series", "type": "nominal", "scale": {"range": ["#c0c0c0"]}, "legend": {"title": null, "legendX": -57.5, "legendY": 423, "labelOffset": -2}}}},
          {"data": {"name": "b_pts"}, "transform": [{"filter": "datum.series === 'Samples above glacial drift, G.M. +1 σ'"}], "mark": {"type": "line", "color": "#000000", "strokeWidth": 1.5}, "encoding": {}},
          {"data": {"name": "b_pts"}, "mark": {"type": "point", "shape": "circle", "filled": true, "size": 68, "strokeWidth": 1.5, "opacity": 1},
           "encoding": {
             "fill": {"field": "series", "type": "nominal", "scale": {"domain": ["Samples above glacial drift, G.M.", "drift, G.M.", "Samples above glacial drift, G.M. +1 σ", "drift, G.M. +1 σ"], "range": ["#ffffff", "rgba(0,0,0,0)", "#000000", "rgba(0,0,0,0)"]}, "legend": {"title": null, "legendX": -57.5, "legendY": 471, "rowPadding": 1, "labelOffset": -2, "labelExpr": "indexof(datum.value, 'Samples') === 0 ? 'Samples above glacial' : datum.value"}},
             "stroke": {"field": "series", "type": "nominal", "scale": {"domain": ["Samples above glacial drift, G.M.", "drift, G.M.", "Samples above glacial drift, G.M. +1 σ", "drift, G.M. +1 σ"], "range": ["#000000", "rgba(0,0,0,0)", "#000000", "rgba(0,0,0,0)"]}, "legend": {"title": null, "legendX": -57.5, "legendY": 471, "rowPadding": 1, "labelOffset": -2, "labelExpr": "indexof(datum.value, 'Samples') === 0 ? 'Samples above glacial' : datum.value"}}
           }}
        ],
        "resolve": {"scale": {"fill": "independent", "stroke": "independent"}}
      },
      {
        "width": 226.7, "height": 263,
        "title": {"text": "c", "dx": -22},
        "encoding": {
          "x": {"field": "x", "type": "quantitative", "scale": {"domain": [-50, 50], "nice": false}, "axis": {"values": [-50, -25, 0, 25, 50], "title": "Distance fr. P.L. (m)", "titleX": 113.3, "titleY": 47}},
          "y": {"field": "y", "type": "quantitative", "scale": {"domain": [0, 600], "nice": false}, "axis": {"values": [0, 100, 200, 300, 400, 500, 600], "offset": -113.35, "zindex": 1, "title": "Rec. sensitivity (n=1160)", "titleX": -117, "titleY": 118}}
        },
        "layer": [
          {"data": {"name": "c_all"}, "mark": {"type": "circle", "size": 76, "opacity": 1},
           "encoding": {"fill": {"field": "series", "type": "nominal", "scale": {"range": ["#c0c0c0"]}, "legend": {"title": null, "legendX": -35, "legendY": 345, "labelOffset": 0}}}},
          {"data": {"name": "c_fit"}, "mark": {"type": "line", "color": "#000000", "strokeWidth": 1.5}, "encoding": {"detail": {"field": "part", "type": "nominal"}}},
          {"data": {"name": "c_pts"}, "mark": {"type": "point", "filled": true, "size": 64, "strokeWidth": 1.5, "opacity": 1},
           "encoding": {
             "fill": {"field": "series", "type": "nominal", "scale": {"domain": ["Samples below layer, G.M.", "G.M.", "Samples above layer, G.M", "G.M", "Samples below layer, G.M. + 1 σ", "G.M. + 1 σ", "Samples above layer, G.M. + 1 σ", "G.M. + 1 σ "], "range": ["#ffffff", "rgba(0,0,0,0)", "#ffffff", "rgba(0,0,0,0)", "#000000", "rgba(0,0,0,0)", "#000000", "rgba(0,0,0,0)"]}, "legend": {"title": null, "legendX": -37, "legendY": 392, "rowPadding": 0, "labelOffset": 2, "labelExpr": "indexof(datum.value, 'Samples below') === 0 ? 'Samples below layer,' : indexof(datum.value, 'Samples above') === 0 ? 'Samples above layer,' : datum.value"}},
             "stroke": {"field": "series", "type": "nominal", "scale": {"domain": ["Samples below layer, G.M.", "G.M.", "Samples above layer, G.M", "G.M", "Samples below layer, G.M. + 1 σ", "G.M. + 1 σ", "Samples above layer, G.M. + 1 σ", "G.M. + 1 σ "], "range": ["#000000", "rgba(0,0,0,0)", "#000000", "rgba(0,0,0,0)", "#000000", "rgba(0,0,0,0)", "#000000", "rgba(0,0,0,0)"]}, "legend": {"title": null, "legendX": -37, "legendY": 392, "rowPadding": 0, "labelOffset": 2, "labelExpr": "indexof(datum.value, 'Samples below') === 0 ? 'Samples below layer,' : indexof(datum.value, 'Samples above') === 0 ? 'Samples above layer,' : datum.value"}},
             "shape": {"field": "series", "type": "nominal", "scale": {"domain": ["Samples below layer, G.M.", "G.M.", "Samples above layer, G.M", "G.M", "Samples below layer, G.M. + 1 σ", "G.M. + 1 σ", "Samples above layer, G.M. + 1 σ", "G.M. + 1 σ "], "range": ["circle", "circle", "square", "square", "circle", "circle", "square", "square"]}, "legend": {"title": null, "legendX": -37, "legendY": 392, "rowPadding": 0, "labelOffset": 2, "labelExpr": "indexof(datum.value, 'Samples below') === 0 ? 'Samples below layer,' : indexof(datum.value, 'Samples above') === 0 ? 'Samples above layer,' : datum.value"}}
           }},
          {"data": {"name": "c_lab"}, "mark": {"type": "text", "fontSize": 22, "color": "#1a1a1a", "align": "center", "baseline": "middle"}, "encoding": {"text": {"field": "label", "type": "nominal"}}}
        ],
        "resolve": {"scale": {"fill": "independent", "stroke": "independent", "shape": "independent"}}
      }
    ]
  }
]
}
